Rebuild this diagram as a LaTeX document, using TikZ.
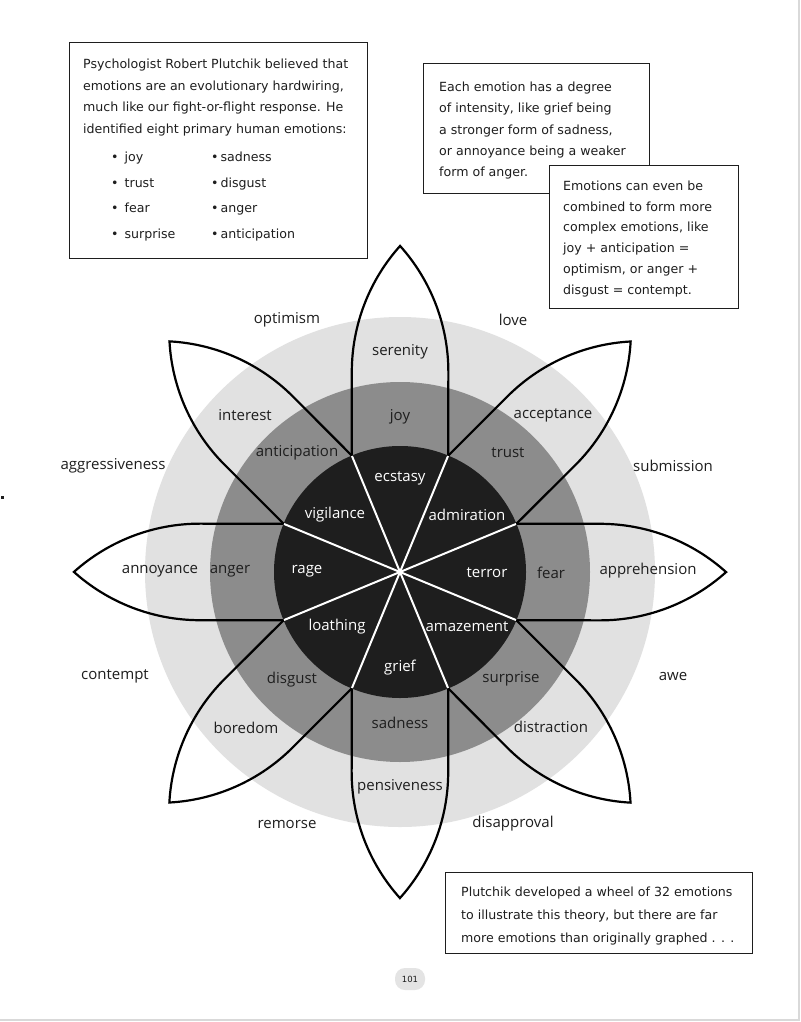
\documentclass[tikz,border=0pt]{standalone}
\usepackage{fontspec}
\setmainfont{DejaVu Sans}
\newfontfamily\wheelfont{Open Sans}
\definecolor{lgray}{HTML}{E1E1E1}
\definecolor{dgray}{HTML}{8C8C8C}
\definecolor{blk}{HTML}{1E1E1E}
\definecolor{ink}{HTML}{1E1E1E}
\definecolor{pageframe}{HTML}{D9D9D9}
\definecolor{pill}{HTML}{E4E4E4}
\begin{document}
\begin{tikzpicture}[x=1pt,y=-1pt,
  box/.style={draw=ink, line width=1.3pt, fill=white, inner sep=0pt, anchor=north west},
  txt/.style={align=left, anchor=north west, inner sep=0pt, text=ink},
  wl/.style={font=\wheelfont\fontsize{15}{17}\selectfont, text=ink, inner sep=0pt},
  wlw/.style={wl, text=white},
  petal/.style={draw=black, line width=2.2pt, line join=miter},
  spoke/.style={draw=white, line width=2pt},
]
\useasboundingbox (0,0) rectangle (800,1022);
\fill[white] (0,0) rectangle (800,1022);
\draw[pageframe, line width=2pt] (0,1020) -- (799,1020) -- (799,0);
\fill[ink] (1,496) rectangle (4,499);

% ---------- wheel ----------
\begin{scope}[shift={(400,572)}, yscale=-1]
  \fill[lgray] (0,0) circle[radius=255];
  \fill[dgray] (0,0) circle[radius=190];
  \fill[blk] (0,0) circle[radius=126];
  \foreach \a in {22.5,67.5,112.5,157.5}
    \draw[spoke] (\a:126) -- ({\a+180}:126);
  \foreach \a in {0,45,...,315}
    \draw[petal, rotate=\a] (116.4,48.2) -- (200,48.2)
      arc[start angle=90, end angle=48.1, radius=188.8]
      arc[start angle=-48.1, end angle=-90, radius=188.8]
      -- (116.4,-48.2);
\end{scope}

% outer (dyads)
\node[wl] (optimism) at (287,320) {optimism};
\node[wl] (love) at (513,320) {love};
\node[wl] (submission) at (673,466) {submission};
\node[wl] (awe) at (673,676) {awe};
\node[wl] (disapproval) at (513,824) {disapproval};
\node[wl] (remorse) at (287,824) {remorse};
\node[wl] (contempt) at (115,676) {contempt};
\node[wl] (aggressiveness) at (113,466) {aggressiveness};
% light ring
\node[wl] (serenity) at (400,352) {serenity};
\node[wl] (acceptance) at (553,415) {acceptance};
\node[wl] (apprehension) at (648,571) {apprehension};
\node[wl] (distraction) at (551,727) {distraction};
\node[wl] (pensiveness) at (400,787) {pensiveness};
\node[wl] (boredom) at (246,728) {boredom};
\node[wl] (annoyance) at (160,571) {annoyance};
\node[wl] (interest) at (245,415) {interest};
% dark ring
\node[wl] (joy) at (400,417) {joy};
\node[wl] (trust) at (508,453) {trust};
\node[wl] (fear) at (551,573) {fear};
\node[wl] (surprise) at (511,679) {surprise};
\node[wl] (sadness) at (400,723) {sadness};
\node[wl] (disgust) at (292,680) {disgust};
\node[wl] (anger) at (230,571) {anger};
\node[wl] (anticipation) at (297,453) {anticipation};
% black core
\node[wlw] (ecstasy) at (400,478) {ecstasy};
\node[wlw] (admiration) at (467,515) {admiration};
\node[wlw] (terror) at (487,573) {terror};
\node[wlw] (amazement) at (467,627) {amazement};
\node[wlw] (grief) at (400,668) {grief};
\node[wlw] (loathing) at (337,627) {loathing};
\node[wlw] (rage) at (307,571) {rage};
\node[wlw] (vigilance) at (335,515) {vigilance};

% ---------- text boxes ----------
\node[box, minimum width=298pt, minimum height=216pt] (b1) at (69,42) {};
\node[txt, font=\fontsize{12.6}{21.7}\selectfont] (t1) at (83,58.8)
  {Psychologist Robert Plutchik believed that\\emotions are an evolutionary hardwiring,\\much like our fight-or-flight response. He\\identified eight primary human emotions:};
\node[txt, font=\fontsize{12.6}{25.6}\selectfont] (l1) at (111,151.8)
  {•\hspace{6pt}joy\\•\hspace{6pt}trust\\•\hspace{6pt}fear\\•\hspace{6pt}surprise};
\node[txt, font=\fontsize{12.6}{25.6}\selectfont] (l2) at (211,151.8)
  {•\hspace{2pt}sadness\\•\hspace{2pt}disgust\\•\hspace{2pt}anger\\•\hspace{2pt}anticipation};

\node[box, minimum width=226pt, minimum height=130pt] (b2) at (423,63) {};
\node[txt, font=\fontsize{12.6}{21.3}\selectfont] (t2) at (439,81.8)
  {Each emotion has a degree\\of intensity, like grief being\\a stronger form of sadness,\\or annoyance being a weaker\\form of anger.};

\node[box, minimum width=189pt, minimum height=143pt] (b3) at (549,165) {};
\node[txt, font=\fontsize{12.6}{20.7}\selectfont] (t3) at (563,180.8)
  {Emotions can even be\\combined to form more\\complex emotions, like\\joy + anticipation =\\optimism, or anger +\\disgust = contempt.};

\node[box, minimum width=307pt, minimum height=81pt] (b4) at (445,872) {};
\node[txt, font=\fontsize{12.6}{23}\selectfont] (t4) at (461,886.8)
  {Plutchik developed a wheel of 32 emotions\\to illustrate this theory, but there are far\\more emotions than originally graphed . . .};

\node[fill=pill, rounded corners=10pt, minimum width=30pt, minimum height=22pt, inner sep=0pt,
  font=\fontsize{8.5}{9}\selectfont, text=ink] (pg) at (410,979) {101};
\end{tikzpicture}
\end{document}
